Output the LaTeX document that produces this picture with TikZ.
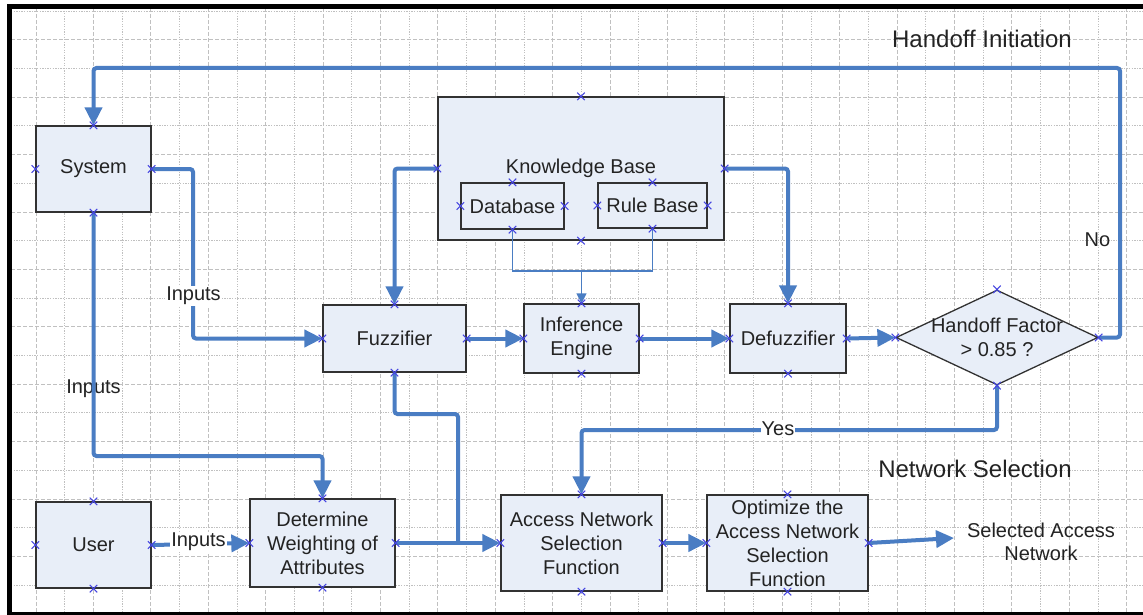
\documentclass[tikz,border=0pt]{standalone}
\usepackage{fontspec}
\setmainfont{Liberation Sans}
\usetikzlibrary{arrows.meta,shapes.geometric,shapes.misc}
\definecolor{boxfill}{RGB}{232,238,248}
\definecolor{boxline}{RGB}{50,50,50}
\definecolor{conn}{RGB}{74,125,195}
\definecolor{markc}{RGB}{70,70,225}
\definecolor{txt}{RGB}{35,35,35}
\definecolor{gridc}{RGB}{192,192,192}
\begin{document}
\begin{tikzpicture}[x=1pt,y=-1pt,
  box/.style={draw=boxline, line width=1.3pt, fill=boxfill, align=center, inner sep=0pt,
              font=\fontsize{20}{24}\selectfont, text=txt},
  flow/.style={draw=conn, line width=4pt, rounded corners=3pt, -{Triangle[length=18pt,width=17pt]}},
  plainflow/.style={draw=conn, line width=4pt, rounded corners=3pt},
  thinflow/.style={draw=conn, line width=1.4pt},
  xm/.style={cross out, draw=markc, line width=1pt, minimum size=6.5pt, inner sep=0pt},
  lbl/.style={font=\fontsize{20}{24}\selectfont, text=txt, inner sep=1pt, align=center},
  onlbl/.style={lbl, fill=white},
  title/.style={font=\fontsize{24}{28}\selectfont, text=txt, inner sep=0pt},
  gdash/.style={draw=gridc, line width=0.8pt, dash pattern=on 4pt off 2pt},
  gdot/.style={draw=gridc, line width=0.8pt, dash pattern=on 1.3pt off 1.3pt}]
% background and frame
\fill[white] (0,0) rectangle (1143,615);
\useasboundingbox (0,0) rectangle (1143,615);
\foreach \k in {1,...,39}{\ifodd\k \draw[gdash] (7.3+28.7*\k,8) -- (7.3+28.7*\k,612);\else \draw[gdot] (7.3+28.7*\k,8) -- (7.3+28.7*\k,612);\fi}
\foreach \k in {0,...,20}{\ifodd\k \draw[gdash] (11,11+28.7*\k) -- (1143,11+28.7*\k);\else \draw[gdot] (11,11+28.7*\k) -- (1143,11+28.7*\k);\fi}
\draw[black, line width=4.5pt] (7.3,6.5) -- (1143,6.5);
\draw[black, line width=4.4pt] (9.5,4.3) -- (9.5,615);
\draw[black, line width=3pt] (7.3,613.5) -- (1143,613.5);

% titles
\node[title] (t1) at (982,39) {Handoff Initiation};
\node[title] (t2) at (975,469) {Network Selection};

% boxes
\node[box, minimum width=115pt, minimum height=86pt] (sys) at (93.5,169) {System};
\node[box, minimum width=286pt, minimum height=143pt] (kb) at (581,168.5) {Knowledge Base};
\node[box, minimum width=103pt, minimum height=46pt] (db) at (512.5,206) {Database};
\node[box, minimum width=109pt, minimum height=45pt] (rb) at (652.5,205.5) {Rule Base};
\node[box, minimum width=143pt, minimum height=67pt] (fuz) at (394.5,338.5) {Fuzzifier};
\node[box, minimum width=115pt, minimum height=69pt] (inf) at (581.5,338.5) {Inference\\Engine};
\node[box, minimum width=116pt, minimum height=69pt] (def) at (788,338.5) {Defuzzifier};
\node[box, shape=diamond, minimum width=202pt, minimum height=95pt] (dia) at (997,337.5) {};
\node[lbl, inner sep=0pt] (diat) at (997,337.5) {Handoff Factor\\> 0.85 ?};
\node[box, minimum width=161pt, minimum height=96pt] (ansf) at (581.5,543) {Access Network\\Selection\\Function};
\node[box, minimum width=161pt, minimum height=96pt] (opt) at (787.5,543) {Optimize the\\Access Network\\Selection\\Function};
\node[box, minimum width=115pt, minimum height=86pt] (user) at (93.5,545) {User};
\node[box, minimum width=145pt, minimum height=88pt] (det) at (322.5,543) {Determine\\Weighting of\\Attributes};
\node[font=\fontsize{20}{23}\selectfont, text=txt, align=center, inner sep=0pt] (sel) at (1041,541.5) {Selected Access\\Network};

% label under a line
\node[lbl] (in2) at (93.5,389) {Inputs};

% connection helpers
\coordinate (noc) at (1120,68);
\coordinate (c2) at (193,250);
\coordinate (c3) at (93.5,456);
\coordinate (j) at (581.5,271);
\coordinate (yc) at (581.5,430);
\coordinate (fz1) at (458,414);
\coordinate (fz2) at (458,543);
\coordinate (selin) at (954,538);

% connectors
\draw[flow] (dia.east) -| (noc) -| (sys.north);
\draw[flow] (sys.east) -| (c2) |- (fuz.west);
\draw[flow] (sys.south) -- (c3) -| (det.north);
\draw[flow] (kb.west) -| (fuz.north);
\draw[flow] (kb.east) -| (def.north);
\draw[thinflow] (db.south) |- (j);
\draw[thinflow] (rb.south) |- (j);
\draw[thinflow, -{Triangle[length=10pt,width=10pt]}] (j) -- (inf.north);
\draw[flow] (fuz.east) -- (inf.west);
\draw[flow] (inf.east) -- (def.west);
\draw[flow] (def.east) -- (dia.west);
\draw[flow] (dia.south) |- (yc) -- (ansf.north);
\draw[plainflow] (fuz.south) |- (fz1) -- (fz2);
\draw[flow] (det.east) -- (ansf.west);
\draw[flow] (user.east) -- (det.west);
\draw[flow] (ansf.east) -- (opt.west);
\draw[flow] (opt.east) -- (selin);

% connection point markers
\foreach \n in {sys,kb,db,rb,fuz,inf,def,dia,ansf,opt,user,det}{
  \foreach \a in {north,south,east,west}{
    \node[xm] (x-\n-\a) at (\n.\a) {};
  }
}

% labels on lines
\node[onlbl] (in1) at (193.5,296) {Inputs};
\node[onlbl] (in3) at (198.5,542) {Inputs};
\node[onlbl] (yes) at (778,429) {Yes};
\node[lbl] (no) at (1097.5,240) {No};
\end{tikzpicture}
\end{document}
